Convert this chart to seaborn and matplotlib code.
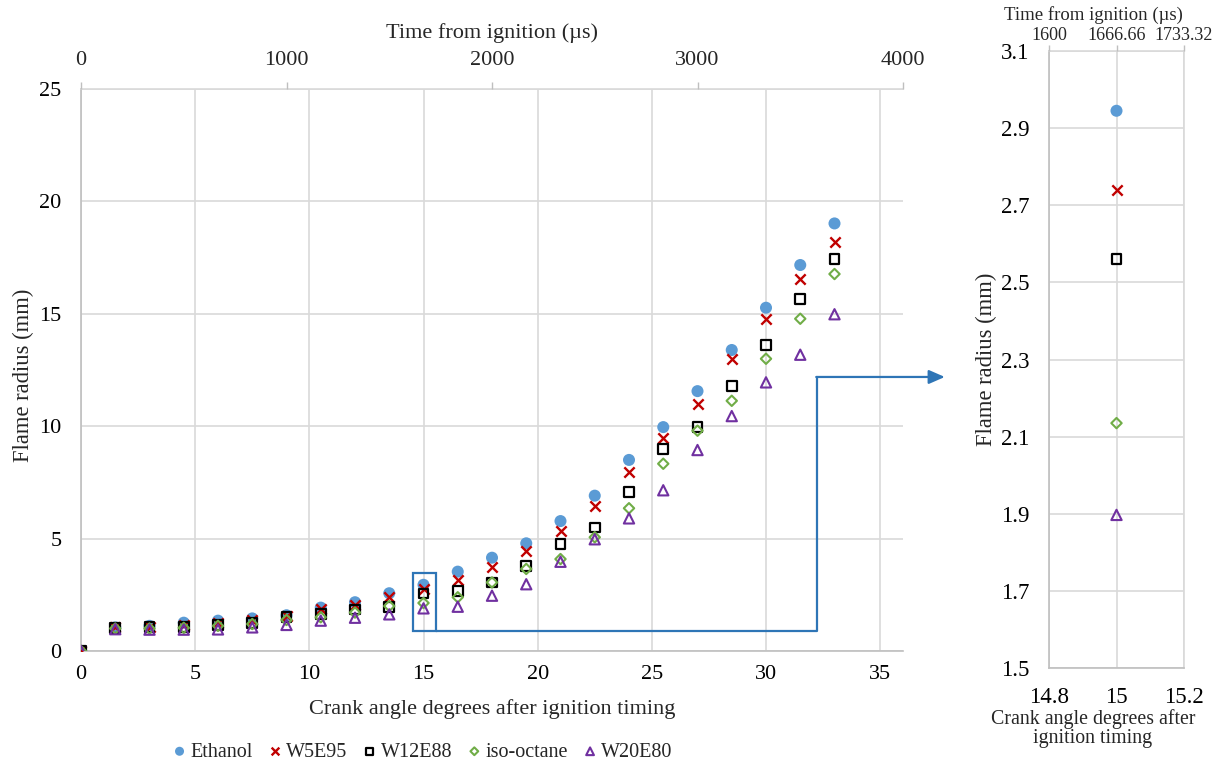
import numpy as np
import pandas as pd
import matplotlib
matplotlib.use("Agg")
import matplotlib.pyplot as plt
import seaborn as sns
from matplotlib.patches import Rectangle

# ---------------- data ----------------
cad = [0, 1.5, 3, 4.5, 6, 7.5, 9, 10.5, 12, 13.5, 15, 16.5, 18, 19.5, 21,
       22.5, 24, 25.5, 27, 28.5, 30, 31.5, 33]
ethanol = [0, 1.05, 1.12, 1.26, 1.35, 1.45, 1.59, 1.93, 2.17, 2.57, 2.945, 3.53,
           4.15, 4.79, 5.78, 6.91, 8.5, 9.96, 11.56, 13.39, 15.27, 17.17, 19.02]
w5e95 = [0, 1.05, 1.08, 1.15, 1.26, 1.38, 1.57, 1.85, 2.05, 2.39, 2.74, 3.16,
         3.75, 4.46, 5.35, 6.45, 7.97, 9.48, 10.97, 12.98, 14.79, 16.55, 18.2]
w12e88 = [0, 1.03, 1.05, 1.08, 1.16, 1.26, 1.5, 1.63, 1.85, 1.97, 2.56, 2.68,
          3.05, 3.78, 4.75, 5.49, 7.08, 8.97, 9.98, 11.77, 13.6, 15.67, 17.42]
isooctane = [0, 1.0, 1.0, 1.03, 1.12, 1.2, 1.38, 1.5, 1.71, 2.0, 2.135, 2.39,
             3.05, 3.65, 4.09, 5.06, 6.35, 8.33, 9.8, 11.13, 13.0, 14.78, 16.77]
w20e80 = [0, 0.97, 0.95, 0.95, 0.96, 1.05, 1.16, 1.35, 1.48, 1.63, 1.897, 1.97,
          2.46, 2.97, 3.97, 4.97, 5.9, 7.15, 8.94, 10.45, 11.95, 13.18, 14.98]

series_names = ["Ethanol", "W5E95", "W12E88", "iso-octane", "W20E80"]
series_values = [ethanol, w5e95, w12e88, isooctane, w20e80]

main_xticks = [0, 5, 10, 15, 20, 25, 30, 35]
main_yticks = [0, 5, 10, 15, 20, 25]
time_ticks = [0, 1000, 2000, 3000, 4000]

zoom_cad = 15
zoom_xticks = [14.8, 15, 15.2]
zoom_xticklabels = ["14.8", "15", "15.2"]
zoom_time_labels = ["1600", "1666.66", "1733.32"]
zoom_yticks = [1.5, 1.7, 1.9, 2.1, 2.3, 2.5, 2.7, 2.9, 3.1]

# ---------------- style ----------------
sns.set_theme(style="white")
plt.rcParams["font.family"] = ["Liberation Serif", "DejaVu Serif"]

styles = {
    "Ethanol":    dict(marker="o", s=75, color="#5B9BD5", fill=True, lw=0),
    "W5E95":      dict(marker="x", s=55, color="#C00000", fill=False, lw=1.7),
    "W12E88":     dict(marker="s", s=50, color="#000000", fill=False, lw=1.6),
    "iso-octane": dict(marker="D", s=28, color="#70AD47", fill=False, lw=1.5),
    "W20E80":     dict(marker="^", s=55, color="#7030A0", fill=False, lw=1.5),
}

rows = []
for name, vals in zip(series_names, series_values):
    for c, v in zip(cad, vals):
        rows.append(dict(cad=c, radius=v, fuel=name))
df = pd.DataFrame(rows)

W, H = 1221, 767
fig = plt.figure(figsize=(W / 100, H / 100), dpi=100)

def px_box(l, t, r, b):
    return [l / W, (H - b) / H, (r - l) / W, (b - t) / H]

ax = fig.add_axes(px_box(81, 89, 903, 651))
axz = fig.add_axes(px_box(1049, 51, 1184, 668))

grid_c = "#D9D9D9"
spine_c = "#BFBFBF"
FS = 16

def draw(axis, data, zorder_base=3):
    for i, name in enumerate(series_names):
        st = styles[name]
        d = data[data["fuel"] == name]
        kw = dict(marker=st["marker"], s=st["s"], linewidth=st["lw"],
                  zorder=zorder_base + i, label=name)
        if st["fill"]:
            kw.update(color=st["color"], edgecolor="none")
        elif st["marker"] == "x":
            kw.update(color=st["color"])
        else:
            kw.update(facecolor="none", edgecolor=st["color"])
        sns.scatterplot(data=d, x="cad", y="radius", ax=axis, legend=False, **kw)

# main chart
draw(ax, df)
ax.set_xlim(0, 36)
ax.set_ylim(0, 25)
ax.set_xticks(main_xticks)
ax.set_yticks(main_yticks)
ax.grid(True, color=grid_c, lw=1.2)
ax.set_axisbelow(True)
for sp in ["left", "bottom"]:
    ax.spines[sp].set_color(spine_c)
    ax.spines[sp].set_linewidth(1.2)
ax.spines["top"].set_color(grid_c)
ax.spines["top"].set_linewidth(1.2)
ax.spines["right"].set_visible(False)
ax.tick_params(axis="both", length=0, labelsize=FS, colors="black")
ax.tick_params(axis="x", pad=10)
ax.tick_params(axis="y", pad=14)
ax.set_xlabel("Crank angle degrees after ignition timing", fontsize=FS)
ax.xaxis.set_label_coords(0.5, -0.086)
ax.set_ylabel("Flame radius (mm)", fontsize=16.3)
ax.yaxis.set_label_coords(-0.057, 0.49)

ax_top = ax.twiny()
ax_top.set_xlim(0, 4000)
ax_top.set_xticks(time_ticks)
ax_top.tick_params(axis="x", direction="out", length=5, width=1, color=spine_c,
                   labelsize=FS, pad=9)
for sp in ax_top.spines.values():
    sp.set_visible(False)
ax_top.set_xlabel("Time from ignition (µs)", fontsize=FS, labelpad=9)

# inset rectangle + connector
ax.add_patch(Rectangle((14.55, 0.9), 1.0, 2.55, fill=False, edgecolor="#2E75B6",
                       lw=1.6, zorder=10))
ax.plot([15.55, 32.24, 32.24], [0.9, 0.9, 12.19], color="#2E75B6", lw=1.6,
        zorder=10, clip_on=False)
ax.annotate("", xy=(37.83, 12.19), xytext=(32.2, 12.19),
            xycoords="data", textcoords="data", annotation_clip=False,
            arrowprops=dict(arrowstyle="-|>,head_length=0.8,head_width=0.35",
                            color="#2E75B6", lw=1.6, shrinkA=0, shrinkB=0))

# zoom panel
draw(axz, df[df["cad"] == zoom_cad])
axz.set_xlim(14.8, 15.2)
axz.set_ylim(1.5, 3.1)
axz.set_xticks(zoom_xticks)
axz.set_xticklabels(zoom_xticklabels)
axz.set_yticks(zoom_yticks)
axz.set_yticklabels([f"{v:.1f}" for v in zoom_yticks])
axz.grid(True, color=grid_c, lw=1.2)
axz.set_axisbelow(True)
for sp in ["left", "bottom"]:
    axz.spines[sp].set_color(spine_c)
    axz.spines[sp].set_linewidth(1.2)
for sp in ["top", "right"]:
    axz.spines[sp].set_color(grid_c)
    axz.spines[sp].set_linewidth(1.2)
axz.tick_params(axis="both", length=0, labelsize=16.5, colors="black")
axz.tick_params(axis="x", pad=14)
axz.tick_params(axis="y", pad=14)
axz.set_xlabel("Crank angle degrees after\nignition timing", fontsize=14.3,
               linespacing=1.05)
axz.xaxis.set_label_coords(0.326, -0.066)
axz.set_ylabel("Flame radius (mm)", fontsize=16.3)
axz.yaxis.set_label_coords(-0.385, 0.5)

axz_top = axz.twiny()
axz_top.set_xlim(14.8, 15.2)
axz_top.set_xticks(zoom_xticks)
axz_top.set_xticklabels(zoom_time_labels)
axz_top.tick_params(axis="x", direction="out", length=4, width=1, color=spine_c,
                    labelsize=13, pad=1)
for sp in axz_top.spines.values():
    sp.set_visible(False)
axz_top.set_xlabel("Time from ignition (µs)", fontsize=13.5)
axz_top.xaxis.set_label_coords(0.326, 1.05)

# legend
handles, labels = ax.get_legend_handles_labels()
fig.legend(handles, labels, loc="center", bbox_to_anchor=(423 / W, (H - 752) / H),
           ncol=5, frameon=False, fontsize=14.5, handletextpad=0.25,
           columnspacing=0.8, handlelength=0.6, markerscale=0.75)

fig.savefig("out.png", dpi=100)
